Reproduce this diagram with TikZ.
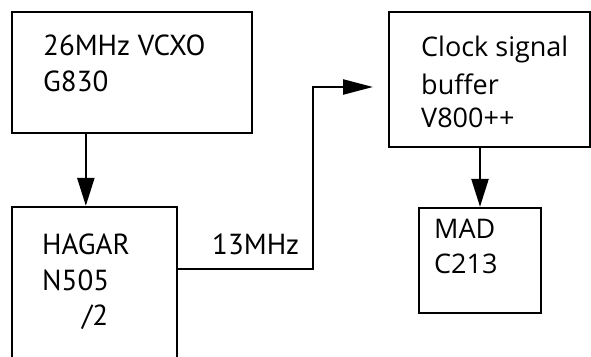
\documentclass[tikz,border=0pt]{standalone}
\usepackage{fontspec}
\setmainfont{PT Sans}
\newfontfamily\rfont{Open Sans}
\usetikzlibrary{arrows.meta}
\begin{document}
\begin{tikzpicture}[x=1pt,y=-1pt,
 box/.style={draw,line width=2.3pt,rectangle,inner sep=0pt},
 lbl/.style={anchor=base west,inner sep=0pt,font=\fontsize{29}{29}\selectfont},
 rlbl/.style={anchor=base west,inner sep=0pt,font=\rfont\fontsize{27}{27}\selectfont},
 conn/.style={line width=2.3pt,-{Triangle[length=28pt,width=17pt]}}]
\useasboundingbox (0,0) rectangle (591,356);
\clip (0,0) rectangle (591,356);
\node[box,minimum width=240pt,minimum height=121pt] (vcxo) at (132,72.5) {};
\node[box,minimum width=165pt,minimum height=173pt] (hagar) at (94.5,293.5) {};
\node[box,minimum width=201pt,minimum height=135pt] (buf) at (489.5,79.5) {};
\node[box,minimum width=122pt,minimum height=105pt] (mad) at (480,260.5) {};
\node[lbl] (t1) at (43,55) {26MHz VCXO};
\node[lbl] (t2) at (43,91) {G830};
\node[lbl] (t3) at (42,254) {HAGAR};
\node[lbl] (t4) at (42,290) {N505};
\node[lbl] (t5) at (82,325) {/2};
\node[lbl] (t6) at (212,254) {13MHz};
\node[rlbl] (t7) at (421,56) {Clock signal};
\node[rlbl] (t8) at (421,94) {buffer};
\node[rlbl] (t9) at (421,127) {V800++};
\node[rlbl] (t10) at (434,238) {MAD};
\node[rlbl] (t11) at (434,273) {C213};
\coordinate (a3) at (373,87);
\draw[conn] ([xshift=75pt]vcxo.south west) -- ([xshift=75pt]hagar.north west);
\draw[conn] (buf.south -| mad.north) -- (mad.north);
\draw[conn,-{Triangle[length=30pt,width=15pt]}] ([yshift=24.5pt]hagar.east) -| ([xshift=-60pt]a3) -- (a3);
\end{tikzpicture}
\end{document}
